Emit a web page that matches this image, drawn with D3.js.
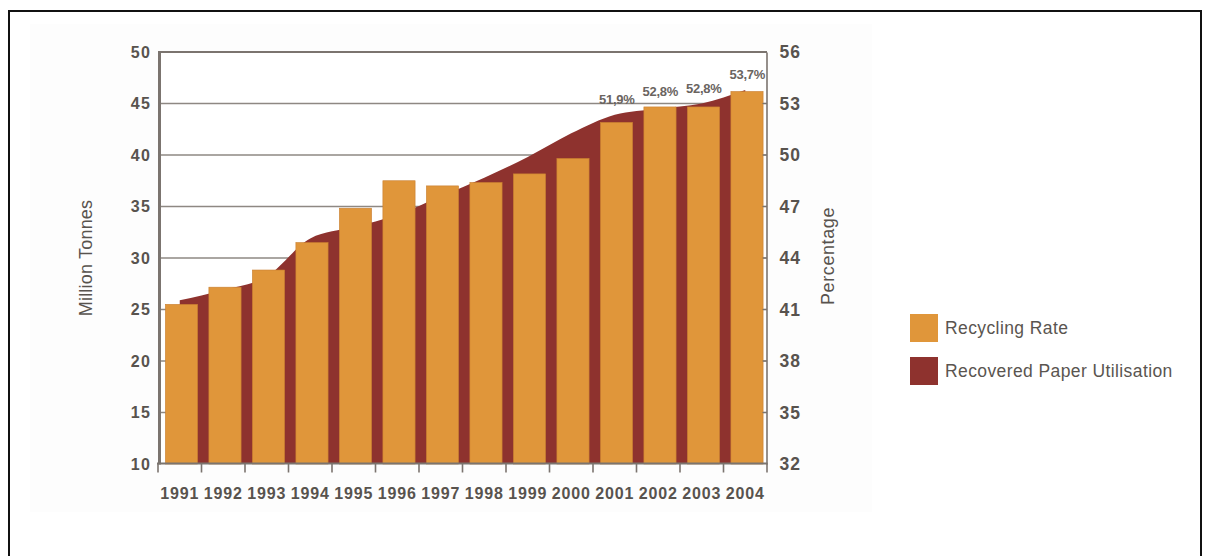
<!DOCTYPE html>
<html>
<head>
<meta charset="utf-8">
<script src="https://cdn.jsdelivr.net/npm/d3@7"></script>
<style>
  html, body { margin: 0; padding: 0; background: #ffffff; }
  svg { display: block; }
  text { font-family: "Liberation Sans", Arial, sans-serif; }
</style>
</head>
<body>
<svg id="chart" width="1209" height="556"></svg>
<script>
// Years on the horizontal axis
const years = ["1991","1992","1993","1994","1995","1996","1997","1998","1999","2000","2001","2002","2003","2004"];
// Recycling rate (%), right axis
const recyclingRate = [41.3, 42.3, 43.3, 44.9, 46.9, 48.5, 48.2, 48.4, 48.9, 49.8, 51.9, 52.8, 52.8, 53.7];
// Recovered paper utilisation (million tonnes), left axis
const paperUtilisation = [25.9, 26.9, 28.2, 31.9, 33.0, 34.2, 36.0, 37.8, 39.8, 42.1, 43.9, 44.5, 45.0, 46.3];
// Years whose rate is written above the bar
const labelledYears = ["2001","2002","2003","2004"];
// Axis ticks
const leftTicks = [10, 15, 20, 25, 30, 35, 40, 45, 50];
const rightTicks = [32, 35, 38, 41, 44, 47, 50, 53, 56];
// Legend entries
const legendLabels = ["Recycling Rate", "Recovered Paper Utilisation"];

const ORANGE = "#e0963a";
const RED = "#8e322e";
const AXIS = "#7b746f";
const GRID = "#8e8883";
const TEXT = "#58534e";

const svg = d3.select("#chart");

// soft panels behind the chart and the legend
svg.append("rect").attr("x", 30).attr("y", 24).attr("width", 842).attr("height", 488).attr("fill", "#fdfdfd");
svg.append("rect").attr("x", 882).attr("y", 292).attr("width", 318).attr("height", 116).attr("fill", "#ffffff");

const x = d3.scaleBand().domain(years).range([158, 767]).padding(0);
const yL = d3.scaleLinear().domain([10, 50]).range([464, 52]);
const yR = d3.scaleLinear().domain([32, 56]).range([464, 52]);
const bw = x.bandwidth();

// plot background
svg.append("rect").attr("x", 159).attr("y", 52).attr("width", 607).attr("height", 411).attr("fill", "#ffffff");

// horizontal gridlines on the tonnes scale
svg.append("g").selectAll("line").data(leftTicks.filter(t => t > 10 && t < 50)).join("line")
  .attr("x1", 159).attr("x2", 767)
  .attr("y1", d => yL(d)).attr("y2", d => yL(d))
  .attr("stroke", GRID).attr("stroke-width", 1.5);

// utilisation area behind the bars
const area = d3.area()
  .x((d, i) => x(years[i]) + bw / 2)
  .y0(yL(10))
  .y1(d => yL(d))
  .curve(d3.curveMonotoneX);
svg.append("path").datum(paperUtilisation).attr("d", area).attr("fill", RED);

// recycling rate bars
svg.append("g").selectAll("rect").data(recyclingRate).join("rect")
  .attr("x", (d, i) => x(years[i]) + bw * 0.17)
  .attr("width", bw * 0.74)
  .attr("y", d => yR(d))
  .attr("height", d => yR(32) - yR(d))
  .attr("fill", ORANGE)
  .attr("stroke", "#c97f30").attr("stroke-width", 0.6);

// value labels for the latest years
const fmt = v => d3.format(".1f")(v).replace(".", ",") + "%";
svg.append("g").selectAll("text").data(labelledYears).join("text")
  .attr("x", d => x(d) + bw / 2 + 2)
  .attr("y", d => {
    const i = years.indexOf(d);
    return Math.min(yR(recyclingRate[i]), yL(paperUtilisation[i])) - 11;
  })
  .attr("text-anchor", "middle")
  .attr("font-size", 13).attr("font-weight", "bold")
  .attr("letter-spacing", -0.3)
  .attr("fill", "#6a645f")
  .text(d => fmt(recyclingRate[years.indexOf(d)]));

// top frame line
svg.append("line").attr("x1", 158).attr("x2", 767).attr("y1", 52).attr("y2", 52)
  .attr("stroke", AXIS).attr("stroke-width", 2);

// left axis
const leftAxis = svg.append("g").attr("transform", "translate(159,0)")
  .call(d3.axisLeft(yL).tickValues(leftTicks).tickSize(0).tickPadding(8));
leftAxis.select(".domain").attr("stroke", AXIS).attr("stroke-width", 3);
leftAxis.selectAll("text").attr("font-size", 16).attr("font-weight", "bold")
  .attr("letter-spacing", 1.2).attr("fill", TEXT).attr("font-family", "'Liberation Sans', Arial, sans-serif");

// right axis
const rightAxis = svg.append("g").attr("transform", "translate(766.5,0)")
  .call(d3.axisRight(yR).tickValues(rightTicks).tickSize(0).tickPadding(13));
rightAxis.select(".domain").attr("stroke", AXIS).attr("stroke-width", 1.6);
rightAxis.selectAll("text").attr("font-size", 17.5).attr("font-weight", "bold")
  .attr("letter-spacing", 1).attr("fill", TEXT).attr("font-family", "'Liberation Sans', Arial, sans-serif");
rightAxis.append("g").selectAll("line").data(rightTicks.slice(1, -1)).join("line")
  .attr("x1", -4).attr("x2", 0)
  .attr("y1", d => yR(d)).attr("y2", d => yR(d))
  .attr("stroke", AXIS).attr("stroke-width", 1.2);

// bottom axis with ticks on the band edges
const bottom = svg.append("g").attr("transform", "translate(0,463.5)");
bottom.append("line").attr("x1", 157).attr("x2", 767.5).attr("y1", 0).attr("y2", 0)
  .attr("stroke", AXIS).attr("stroke-width", 2.2);
const edges = years.map(y => x(y)).concat([x.range()[1]]);
bottom.selectAll("line.tick").data(edges).join("line").attr("class", "tick")
  .attr("x1", d => d).attr("x2", d => d).attr("y1", 0).attr("y2", 9)
  .attr("stroke", AXIS).attr("stroke-width", 1.6);
bottom.selectAll("text").data(years).join("text")
  .attr("x", d => x(d) + bw / 2)
  .attr("y", 35)
  .attr("text-anchor", "middle")
  .attr("font-size", 16).attr("font-weight", "bold")
  .attr("letter-spacing", 0.8).attr("fill", TEXT)
  .text(d => d);

// axis titles
svg.append("text").attr("transform", "translate(92,258) rotate(-90)")
  .attr("text-anchor", "middle").attr("font-size", 18).attr("fill", TEXT)
  .attr("letter-spacing", 0.2)
  .text("Million Tonnes");
svg.append("text").attr("transform", "translate(834,256) rotate(-90)")
  .attr("text-anchor", "middle").attr("font-size", 18).attr("fill", TEXT)
  .attr("letter-spacing", 0.6)
  .text("Percentage");

// legend
const legendColors = [ORANGE, RED];
const legend = svg.append("g").selectAll("g").data(legendLabels).join("g")
  .attr("transform", (d, i) => `translate(910,${314 + i * 43})`);
legend.append("rect").attr("width", 28).attr("height", 28)
  .attr("fill", (d, i) => legendColors[i]);
legend.append("text").attr("x", 35).attr("y", 20)
  .attr("font-size", 17.5).attr("fill", "#5a5550")
  .attr("letter-spacing", 0.4)
  .text(d => d);

// outer frame, open at the bottom edge
svg.append("rect").attr("x", 9).attr("y", 11).attr("width", 1192).attr("height", 560)
  .attr("fill", "none").attr("stroke", "#111").attr("stroke-width", 2);
</script>
</body>
</html>
